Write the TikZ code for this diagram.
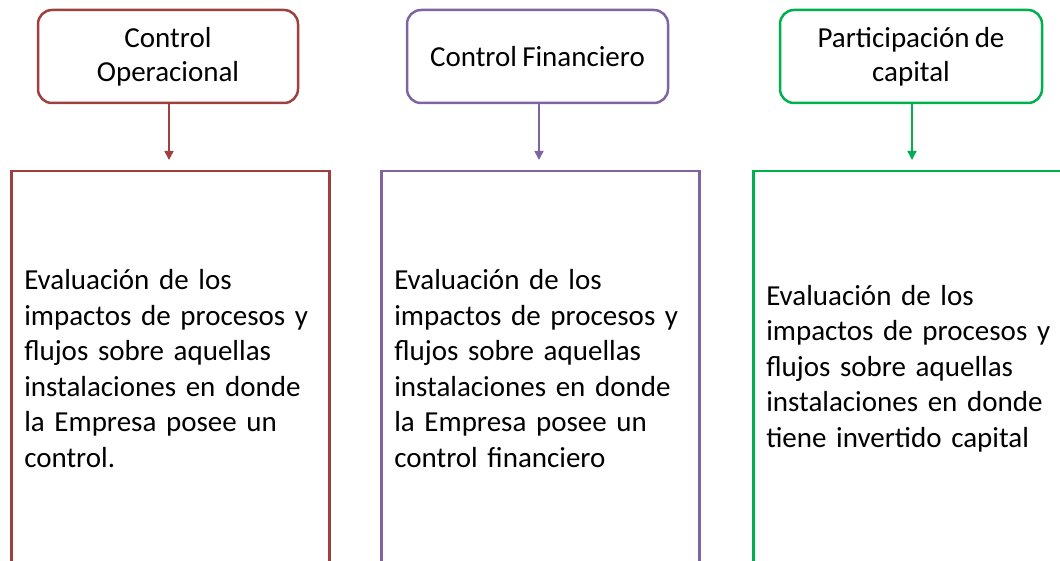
\documentclass[tikz,border=0pt]{standalone}
\usepackage{fontspec}
\setmainfont[WordSpace=0.8]{Carlito}
\usetikzlibrary{arrows.meta}
\definecolor{cred}{HTML}{A0403E}
\definecolor{cpur}{HTML}{8064A2}
\definecolor{cgrn}{HTML}{00B050}
\tikzset{
  topbox/.style={draw=#1, line width=2.5pt, rounded corners=14pt, fill=white,
    minimum height=93pt, inner sep=0pt, align=center,
    font=\fontsize{29}{34}\selectfont},
  botbox/.style={draw=#1, line width=2.5pt, fill=white, anchor=north west,
    minimum height=395pt, inner xsep=13pt, inner ysep=0pt, align=left,
    font=\fontsize{29}{35.5}\selectfont},
  conn/.style={draw=#1, line width=1.5pt, -{Triangle[length=9pt,width=9pt]}}
}
\begin{document}
\begin{tikzpicture}[x=1pt,y=-1pt]
\useasboundingbox (0,0) rectangle (1060,561);
\clip (0,0) rectangle (1060,561);
% top boxes
\node[topbox=cred, minimum width=260pt] (t1) at (168,56.5) {Control\\Operacional};
\node[topbox=cpur, minimum width=261pt] (t2) at (537.5,56.5) {Control Financiero};
\node[topbox=cgrn, minimum width=262pt] (t3) at (911,56.5) {Participación de\\capital};
% bottom boxes
\node[botbox=cred, minimum width=318pt, text width=292pt] (b1) at (10,170)
  {Evaluación de los\\impactos de procesos y\\flujos sobre aquellas\\instalaciones en donde\\la Empresa posee un\\control.};
\node[botbox=cpur, minimum width=318pt, text width=292pt] (b2) at (380,170)
  {Evaluación de los\\impactos de procesos y\\flujos sobre aquellas\\instalaciones en donde\\la Empresa posee un\\control financiero};
\node[botbox=cgrn, minimum width=320pt, text width=294pt] (b3) at (752,170)
  {Evaluación de los\\impactos de procesos y\\flujos sobre aquellas\\instalaciones en donde\\tiene invertido capital};
% connectors
\coordinate (a1) at (169,160);
\coordinate (a2) at (539,160);
\coordinate (a3) at (912,160);
\draw[conn=cred] (t1.south -| a1) -- (a1);
\draw[conn=cpur] (t2.south -| a2) -- (a2);
\draw[conn=cgrn] (t3.south -| a3) -- (a3);
\end{tikzpicture}
\end{document}
